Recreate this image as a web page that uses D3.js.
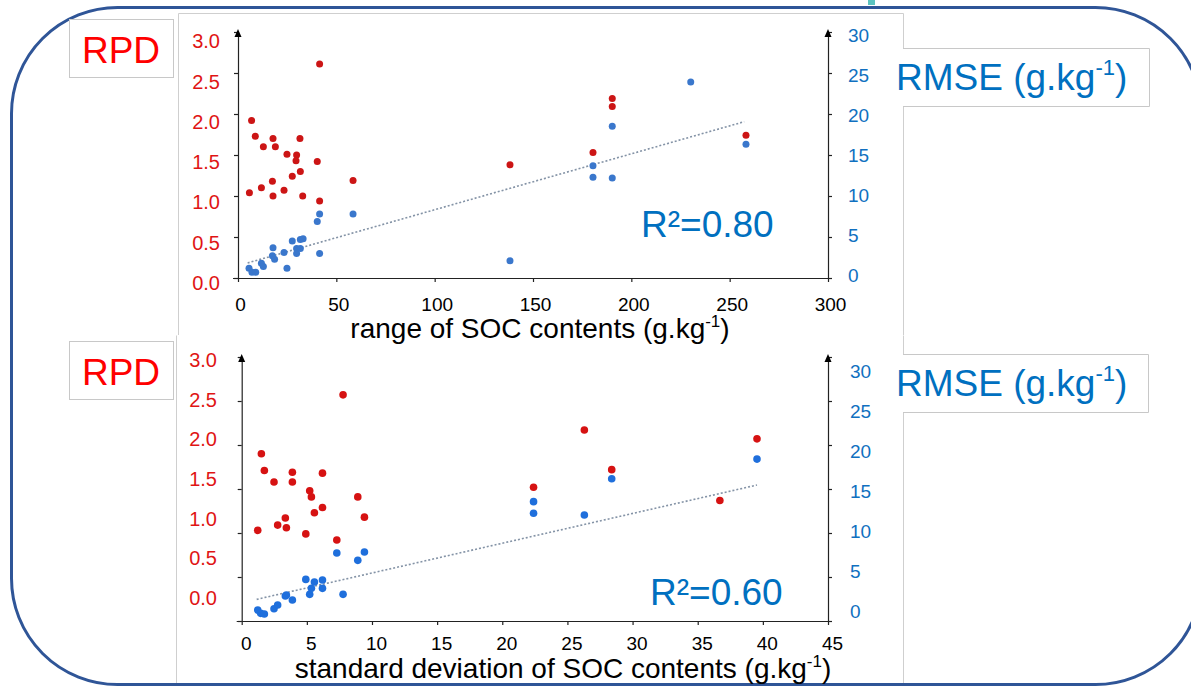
<!DOCTYPE html>
<html>
<head>
<meta charset="utf-8">
<script src="https://cdn.jsdelivr.net/npm/d3@7"></script>
<style>
  body { margin: 0; background: #fff; }
  text { font-family: "Liberation Sans", Arial, sans-serif; }
</style>
</head>
<body>
<svg id="chart" width="1191" height="686"></svg>
<script>
// ---- data ----
// top chart: x = range of SOC contents, RPD (left axis) and RMSE (right axis)
const rangeRPD = [
  [5.8,1.04],[6.9,1.92],[8.8,1.73],[11.9,1.10],[12.9,1.60],[17.8,1.70],[17.5,1.18],
  [17.8,1.00],[19.0,1.60],[23.4,1.07],[24.9,1.51],[27.6,1.24],[29.8,1.50],[29.5,1.43],
  [31.5,1.70],[31.7,1.30],[32.9,1.00],[40.3,1.42],[41.5,2.61],[41.5,0.94],[58.5,1.19],
  [138.3,1.38],[180.5,1.53],[190.3,2.19],[190.3,2.09],[258.3,1.74]
];
const rangeRMSE = [
  [5.6,1.2],[7.1,0.7],[9.0,0.7],[11.9,1.8],[12.9,1.4],[17.8,3.7],[17.5,2.7],[18.6,2.3],
  [23.4,3.1],[24.9,1.2],[27.6,4.5],[29.8,3.6],[29.8,3.0],[31.7,4.7],[33.1,4.8],[31.7,3.6],
  [40.3,6.9],[41.5,7.8],[41.5,3.0],[58.5,7.8],[138.3,2.1],[180.5,13.7],[180.5,12.3],
  [190.3,18.5],[190.3,12.2],[230.2,23.9],[258.3,16.3]
];
const rangeTrend = [[4.9,1.84],[257.4,19.06]];

// bottom chart: x = standard deviation of SOC contents
const sdRPD = [
  [1.23,1.03],[1.51,1.90],[1.74,1.71],[2.48,1.58],[2.76,1.09],[3.35,1.17],[3.43,1.06],
  [3.89,1.69],[3.89,1.58],[4.92,0.99],[5.22,1.48],[5.35,1.41],[5.58,1.23],[6.20,1.68],
  [6.20,1.29],[7.30,0.92],[7.78,2.57],[8.91,1.41],[9.42,1.18],[22.4,1.52],[26.3,2.17],
  [28.4,1.72],[36.7,1.37],[39.55,2.07]
];
const sdRMSE = [
  [1.23,1.25],[1.46,0.87],[1.74,0.80],[2.48,1.40],[2.76,1.82],[3.35,2.84],[3.43,2.95],
  [3.89,2.39],[4.92,4.73],[5.22,3.03],[5.35,3.71],[5.58,4.43],[6.20,4.66],[6.20,3.71],
  [7.30,7.73],[7.78,3.03],[8.91,6.89],[9.42,7.84],[22.4,13.56],[22.4,12.24],[26.3,12.05],
  [28.4,16.17],[39.55,18.4]
];
const sdTrend = [[1.15,2.46],[39.55,15.45]];

const rangeTicks = [0, 50, 100, 150, 200, 250, 300];
const sdTicks = [0, 5, 10, 15, 20, 25, 30, 35, 40, 45];
const rpdTicks = [0, 0.5, 1, 1.5, 2, 2.5, 3];
const rmseTicks = [0, 5, 10, 15, 20, 25, 30];

const svg = d3.select('#chart');
svg.append('rect').attr('width', 1191).attr('height', 686).attr('fill', '#fff');

// plot panels (pasted pictures on the slide), only their side edges show
function panel(x, y, w, h, top) {
  svg.append('rect')
    .attr('x', x).attr('y', y)
    .attr('width', w).attr('height', h)
    .attr('fill', '#fff');
  let d = `M${x + 0.5},${y + h}V${y + 0.5}` + (top ? `H${x + w + 0.5}` : `M${x + w + 0.5},${y + 0.5}`) + `V${y + h}`;
  svg.append('path')
    .attr('d', d)
    .attr('fill', 'none')
    .attr('stroke', '#cfcfcf');
}
panel(178, 13, 725, 322, true);
panel(176, 335, 727, 360, false);

// slide frame
svg.append('rect')
  .attr('x', 11.5).attr('y', 7.5)
  .attr('width', 1190).attr('height', 677)
  .attr('rx', 106).attr('ry', 106)
  .attr('fill', 'none')
  .attr('stroke', '#2f5597')
  .attr('stroke-width', 3);

svg.append('rect').attr('x', 868).attr('y', 0).attr('width', 7).attr('height', 5).attr('fill', '#5bc3c0');

// RPD label boxes
[19, 341].forEach(function(y) {
  svg.append('rect')
    .attr('x', 69.5).attr('y', y + 0.5).attr('width', 104).attr('height', 58)
    .attr('fill', '#fff').attr('stroke', '#c8c8c8');
  svg.append('text')
    .attr('x', 121).attr('y', y + 44)
    .attr('text-anchor', 'middle')
    .attr('fill', '#ff0000')
    .style('font-size', '37px')
    .text('RPD');
});

// RMSE label boxes
[[48, 1149], [354, 1148]].forEach(function(b) {
  let y = b[0], r = b[1];
  svg.append('rect').attr('x', 885).attr('y', y).attr('width', r - 885).attr('height', 59).attr('fill', '#fff');
  svg.append('path')
    .attr('d', `M903,${y + 0.5}H${r + 0.5}V${y + 58.5}H903`)
    .attr('fill', 'none').attr('stroke', '#c8c8c8');
  let t = svg.append('text')
    .attr('x', 896).attr('y', y + 42)
    .attr('fill', '#0070c0')
    .style('font-size', '37px');
  t.append('tspan').text('RMSE (g.kg');
  t.append('tspan').attr('dy', -15).style('font-size', '22px').text('-1');
  t.append('tspan').attr('dy', 15).text(')');
});

function drawChart(c) {
  const g = svg.append('g');
  const x = d3.scaleLinear().domain([0, c.xMax]).range([c.left, c.right]);
  const yL = d3.scaleLinear().domain([0, 3]).range([c.bottom, c.top]);
  const yR = d3.scaleLinear().domain([0, 30]).range([c.bottom, c.top]);
  // the tick labels of the pasted picture do not sit exactly on the ticks
  const yLabL = d3.scaleLinear().domain([0, 3]).range(c.lLab);
  const yLabR = d3.scaleLinear().domain([0, 30]).range(c.rLab);

  // x axis
  const ax = g.append('g')
    .attr('transform', `translate(0,${c.bottom})`)
    .call(d3.axisBottom(x).tickValues(c.xTicks).tickSize(4).tickSizeOuter(0));
  ax.selectAll('text')
    .attr('y', c.xLabBase - c.bottom).attr('dy', 0).attr('dx', c.xLabDx)
    .attr('fill', '#000')
    .style('font-size', '19px').style('font-family', '"Liberation Sans", Arial, sans-serif');
  g.append('line')
    .attr('x1', c.left - 5).attr('x2', c.left)
    .attr('y1', c.bottom + 0.5).attr('y2', c.bottom + 0.5)
    .attr('stroke', '#222');

  // left and right axes (ticks only, labels are drawn apart)
  g.append('g')
    .attr('transform', `translate(${c.left},0)`)
    .call(d3.axisLeft(yL).tickValues(rpdTicks).tickSize(4).tickSizeOuter(0).tickFormat(''));
  g.append('g')
    .attr('transform', `translate(${c.right},0)`)
    .call(d3.axisRight(yR).tickValues(rmseTicks).tickSize(4).tickSizeOuter(0).tickFormat(''));
  g.selectAll('.domain, .tick line').attr('stroke', '#222').attr('stroke-width', 1.2);

  [c.left, c.right].forEach(function(px) {
    g.append('path')
      .attr('d', `M${px - 3.5},${c.top + 5}L${px},${c.top - 3}L${px + 3.5},${c.top + 5}Z`)
      .attr('fill', '#000');
  });

  const la = g.append('g')
    .attr('transform', `translate(${c.lLabX},0)`)
    .call(d3.axisLeft(yLabL).tickValues(rpdTicks).tickSize(0).tickPadding(0).tickFormat(d3.format('.1f')));
  la.select('.domain').remove();
  la.selectAll('text').attr('fill', '#e01414').style('font-size', '20px')
    .style('font-family', '"Liberation Sans", Arial, sans-serif');

  const ra = g.append('g')
    .attr('transform', `translate(${c.rLabX},0)`)
    .call(d3.axisRight(yLabR).tickValues(rmseTicks).tickSize(0).tickPadding(0).tickFormat(d3.format('d')));
  ra.select('.domain').remove();
  ra.selectAll('text').attr('fill', '#1070c0').style('font-size', '19px')
    .style('font-family', '"Liberation Sans", Arial, sans-serif');

  // trend line for RMSE
  g.append('path')
    .datum(c.trend)
    .attr('d', d3.line().x(d => x(d[0])).y(d => yR(d[1])))
    .attr('fill', 'none')
    .attr('stroke', '#8493a6')
    .attr('stroke-width', 1.6)
    .attr('stroke-dasharray', '2,2');

  g.selectAll('.rpd').data(c.rpd).enter().append('circle')
    .attr('cx', d => x(d[0])).attr('cy', d => yL(d[1]))
    .attr('r', c.rDot).attr('fill', c.red);
  g.selectAll('.rmse').data(c.rmse).enter().append('circle')
    .attr('cx', d => x(d[0])).attr('cy', d => yR(d[1]))
    .attr('r', c.rDot).attr('fill', c.blue);

  g.append('text')
    .attr('x', c.r2X).attr('y', c.r2Y)
    .attr('fill', '#0070c0')
    .style('font-size', '37px')
    .text(c.r2);

  let t = g.append('text')
    .attr('x', c.titleX).attr('y', c.titleY)
    .attr('text-anchor', 'middle')
    .attr('fill', '#000')
    .style('font-size', '28px');
  t.append('tspan').text(c.title);
  t.append('tspan').attr('dy', -11).style('font-size', '17px').text('-1');
  t.append('tspan').attr('dy', 11).text(')');
}

drawChart({
  left: 238, right: 828, top: 32, bottom: 278,
  xMax: 300, xTicks: rangeTicks, xLabBase: 311, xLabDx: 2,
  lLabX: 220, lLab: [283, 41.5], rLabX: 848, rLab: [275, 35],
  rpd: rangeRPD, rmse: rangeRMSE, trend: rangeTrend,
  red: '#cc1515', blue: '#3a77cc', rDot: 3.5,
  r2: 'R²=0.80', r2X: 641, r2Y: 237,
  title: 'range of SOC contents (g.kg', titleX: 540, titleY: 338
});

drawChart({
  left: 241.7, right: 828, top: 357, bottom: 621,
  xMax: 45, xTicks: sdTicks, xLabBase: 650, xLabDx: 4,
  lLabX: 217, lLab: [598, 360], rLabX: 850, rLab: [611, 371],
  rpd: sdRPD, rmse: sdRMSE, trend: sdTrend,
  red: '#d61212', blue: '#1f6fdc', rDot: 3.8,
  r2: 'R²=0.60', r2X: 650, r2Y: 605,
  title: 'standard deviation of SOC contents (g.kg', titleX: 563, titleY: 678
});
</script>
</body>
</html>
